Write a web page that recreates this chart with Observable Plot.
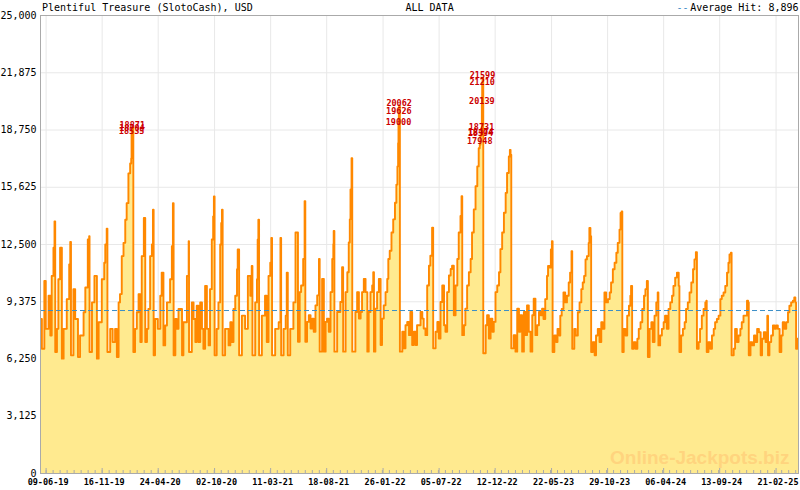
<!DOCTYPE html>
<html><head><meta charset="utf-8">
<script src="https://cdn.jsdelivr.net/npm/d3@7"></script>
<script src="https://cdn.jsdelivr.net/npm/@observablehq/plot@0.6"></script>
<style>
body{margin:0;background:#fff;}
#chart{width:800px;height:490px;}
</style></head><body><div id="chart"></div>
<script>
// ---- data ----
const startDate = "2019-05-24";   // left edge of the plot
const endDate = "2025-04-26";     // right edge of the plot
// day offsets from startDate and jackpot amount (USD)
const dayOffset = [
0,4,11,15,23,28,32,37,40,42,47,51,56,61,66,75,82,85,87,94,
99,107,113,123,128,135,139,140,147,154,161,166,175,182,185,189,191,199,206,213,
218,223,227,232,237,242,246,251,256,259,260,261,262,265,270,275,280,285,289,295,
299,304,308,313,318,321,323,327,335,342,346,351,356,361,370,375,378,380,385,389,
394,404,408,418,423,424,432,437,442,446,451,456,461,465,470,475,480,484,489,493,
495,497,503,508,513,516,518,520,527,537,542,546,551,556,561,563,567,575,584,592,
599,603,605,613,618,620,622,624,632,641,646,651,656,659,661,670,680,685,687,694,
700,703,706,713,722,
728,735,740,744,750,754,756,761,766,771,776,780,785,790,795,797,804,809,814,818,
823,828,833,836,837,839,847,856,861,864,871,876,880,883,885,888,890,899,904,909,
914,918,923,928,933,937,942,947,950,952,956,961,966,971,975,980,985,990,993,997,
1002,1007,1012,1016,1019,1021,1022,1023,1024,1026,1033,1037,1042,1047,1052,1056,1061,1066,1071,1075,
1085,1090,1094,1099,1104,1109,1113,1118,1121,1128,1133,1137,1142,1147,1152,1156,1161,1166,1171,1175,
1180,1185,1190,1194,1199,1202,1204,1209,1213,1218,1223,1228,1232,1237,1242,1247,1251,1254,1256,1257,
1259,1260,1261,1262,1264,1271,1275,1280,1285,1290,1294,1299,1304,1309,1313,1318,1323,1328,1332,1337,
1340,1342,1344,1351,1356,1361,1366,1370,1375,1380,1385,1389,1394,1399,1404,1408,1413,1418,1423,1428,
1432,
1436,1441,1446,1449,1453,1457,1460,1462,1467,1472,1476,1481,1484,1488,1493,1498,1503,1508,1512,1516,
1518,1524,1528,1534,1539,1544,1548,1552,1556,1560,1565,1567,1570,1572,1577,1582,1586,1591,1596,1601,
1605,1610,1615,1620,1625,1629,1634,1639,1644,1648,1653,1656,1659,1661,1665,1670,1675,1680,1684,1686,
1689,1694,1699,1704,1708,1713,1718,1723,1727,1731,1734,1739,1744,1748,1753,1758,1762,1764,1769,1774,
1779,1783,1788,1793,1798,1803,1807,1812,1817,1822,1824,1829,1834,1839,1843,1848,1853,1858,1863,1867,
1871,1874,1879,1883,1888,1893,1898,1901,1902,1907,1912,1917,1922,1926,1931,1936,1941,1945,1950,1955,
1960,1964,1967,1971,1973,1979,1983,1988,1993,1998,2002,2007,2017,2020,2022,2027,2032,2037,2041,2046,
2051,2056,2060,2065,2070,2075,2077,2081,2086,2091,2096,2100,2105,2110,2115,2119,2124,2129,2134,2138,
2143,2148,2152,2155,2157,2161,2166,2169
];
const jackpot = [
8437,6811,10514,7895,9701,7534,10785,12320,13765,6631,7895,10604,12320,6270,7895,9520,11417,12645,6450,10062,
8437,6360,7534,8798,10153,12772,12952,6631,9340,10785,6270,8256,10604,11507,12501,13367,6631,7895,7173,7895,
6360,9340,9792,11868,12591,13855,14758,16383,16925,17196,18535,18704,18871,6631,7895,8798,9792,7173,11868,13945,
7173,7895,8979,11868,12501,14397,6450,8437,7895,9701,10966,6992,8076,9340,10604,12410,14758,6450,8437,7895,
8979,6450,8256,10785,12681,6631,9340,8437,7173,9159,7173,9340,7895,6811,10243,7895,6992,10062,12772,14036,
15119,6450,7895,9340,12501,13675,14397,6450,7895,6992,8256,7173,8979,9701,11146,12230,6450,8617,7895,10785,
9701,11327,6450,9340,10604,12772,13855,6450,8617,9701,7173,10785,11507,12862,6450,7895,8256,12862,6450,7895,
8617,10966,6450,7895,9340,
13152,7192,9901,10263,11707,14868,7192,8276,8637,7914,8456,7734,9179,9721,11707,6650,10624,6650,8276,8456,
7734,9901,11707,12520,13242,6650,8818,9360,11256,6650,9901,10985,12610,13874,15500,17215,6650,8818,9901,8456,
8818,9901,10624,9901,6650,8818,9901,10263,10985,6650,8998,9901,10624,7012,8456,9179,9901,10624,11707,12159,
13152,13874,14777,15771,16764,18028,19000,19626,20062,6650,7734,6831,8095,8276,7553,8818,7012,7734,7012,8095,
8818,8456,7914,7553,10263,11346,11888,13423,6831,7734,8276,7373,9360,10263,8095,7734,9901,10804,11165,11346,
8637,10263,11707,13152,14055,15138,7553,8095,8998,10263,10985,11707,13152,14416,15680,16764,17757,17948,18394,18474,
18731,20139,21210,21599,6560,8095,8637,7373,8456,7734,8276,9901,10263,10985,12249,13152,14235,15319,16403,17306,
17667,17396,6831,7553,6650,8998,7734,8637,6650,8818,7553,9179,7734,6650,8637,9540,7553,8095,8818,8637,
8998,
8437,9520,10785,11327,11236,12230,12681,6631,7534,7173,7895,7534,8617,8979,9882,9340,9701,10424,10966,12140,
6811,7895,7534,8798,9340,10062,10424,10785,11688,11868,12591,13403,12952,6631,7173,6450,7534,7895,7173,8256,
7895,9882,9340,9520,9882,10424,11146,11507,12049,12591,13313,14216,14306,6631,7895,7534,8617,9159,9701,10243,
6811,7173,6811,7353,7895,8256,8979,9701,10062,10514,6360,7895,8256,7173,8617,9340,9882,6992,7534,7895,
8256,8617,7895,8979,9340,9701,10243,10694,10966,10243,6631,7534,7895,8256,8979,9340,9882,10424,11146,11688,
12085,6811,7173,7895,8617,8979,9340,9430,6631,7173,6811,7534,7895,8256,8437,8617,9520,9701,9882,10243,
10966,11507,11959,12049,6450,6811,7895,7173,7534,7895,8256,8617,9430,9340,6450,7173,6992,7534,7173,7895,
7714,6450,7353,7714,7173,8617,6450,7173,7534,8076,7895,8076,7895,6631,7534,8256,7895,8256,8798,9159,
9340,9430,9611,9340,6811,7353,7173,7895
];
// labelled hits near the big peaks
const hitDay = [260,261,262,1022,1023,1024,1254,1256,1257,1259,1260,1261,1262];
const hitValue = [18535,18704,18871,19000,19626,20062,17948,18394,18474,18731,20139,21210,21599];
const averageHit = 8896;
const yTicks = [0,3125,6250,9375,12500,15625,18750,21875,25000];
const xTickLabels = ["09-06-19","16-11-19","24-04-20","02-10-20","11-03-21","18-08-21","26-01-22",
  "05-07-22","12-12-22","22-05-23","29-10-23","06-04-24","13-09-24","21-02-25"];
const minorTickStepDays = 20;
const title = "Plentiful Treasure (SlotoCash), USD";
const subtitle = "ALL DATA";
const legendText = "Average Hit: 8,896";
const watermark = "Online-Jackpots.biz";

// ---- build ----
const start = new Date(startDate + "T00:00:00Z");
const end = new Date(endDate + "T00:00:00Z");
const rows = dayOffset.map((d, i) => ({date: d3.utcDay.offset(start, d), value: jackpot[i]}));
const hits = hitDay.map((d, i) => ({date: d3.utcDay.offset(start, d), value: hitValue[i]}));
const parseLabel = d3.utcParse("%d-%m-%y");
const xMajor = xTickLabels.map(parseLabel);
const labelByTime = new Map(xMajor.map((d, i) => [+d, xTickLabels[i]]));
const minor = d3.range(-2, 120).map(i => d3.utcDay.offset(xMajor[0], minorTickStepDays * i))
  .filter(d => d >= start && d <= end);

const mono = "'DejaVu Sans Mono', 'Liberation Mono', monospace";
const plot = Plot.plot({
  width: 800, height: 490,
  marginLeft: 40, marginRight: 2, marginTop: 15, marginBottom: 17,
  style: {fontFamily: mono, fontSize: "10px", background: "#fff", color: "#000"},
  x: {type: "utc", domain: [start, end]},
  y: {domain: [0, 25000]},
  marks: [
    Plot.gridY(yTicks, {stroke: "#e8e8e8", strokeOpacity: 1}),
    Plot.gridX(xMajor, {stroke: "#e8e8e8", strokeOpacity: 1}),
    Plot.areaY(rows, {x: "date", y: "value", curve: "step-after", fill: "#ffea8f", clip: true}),
    Plot.text([watermark], {frameAnchor: "bottom-right", dx: -9, dy: -16, textAnchor: "end", lineAnchor: "middle",
      fontFamily: "'Liberation Sans', Arial, sans-serif", fontWeight: "bold", fontSize: 19, fill: "#ffd47e"}),
    Plot.lineY(rows, {x: "date", y: "value", curve: "step-after", stroke: "#ff8800", strokeWidth: 1.9, clip: true}),
    Plot.ruleY([averageHit], {stroke: "#3b8fc8", strokeWidth: 1, strokeDasharray: "5,3"}),
    Plot.text(hits, {x: "date", y: "value", text: d => String(d.value), fill: "#cc0000",
      fontSize: 8.5, fontWeight: "bold", dy: -3}),
    Plot.ruleX(minor, {y1: 0, y2: 0, insetTop: -3, stroke: "#aaa"}),
    Plot.ruleX(xMajor, {y1: 0, y2: 0, insetTop: -5, stroke: "#aaa"}),
    Plot.frame({stroke: "#aaa"}),
    Plot.axisY({ticks: yTicks, tickFormat: d3.format(","), tickSize: 0, tickPadding: 4, label: null, fontSize: 10}),
    Plot.axisX({ticks: xMajor, tickFormat: d => labelByTime.get(+d), tickSize: 0, tickPadding: 5, label: null,
      fontSize: 8.5, fontWeight: "bold", dx: 2}),
    Plot.text([title], {frameAnchor: "top-left", dx: 1.5, dy: -7.5, textAnchor: "start", lineAnchor: "middle", fontSize: 10}),
    Plot.text([subtitle], {frameAnchor: "top", dx: -14, dy: -7.5, textAnchor: "start", lineAnchor: "middle", fontSize: 10}),
    Plot.text([legendText], {frameAnchor: "top-right", dx: 0, dy: -7.5, textAnchor: "end", lineAnchor: "middle", fontSize: 10}),
    Plot.text(["--"], {frameAnchor: "top-right", dx: -110, dy: -7.5, textAnchor: "end", lineAnchor: "middle", fontSize: 10, fill: "#3b8fc8"})
  ]
});
document.getElementById("chart").appendChild(plot);
</script>
</body></html>
